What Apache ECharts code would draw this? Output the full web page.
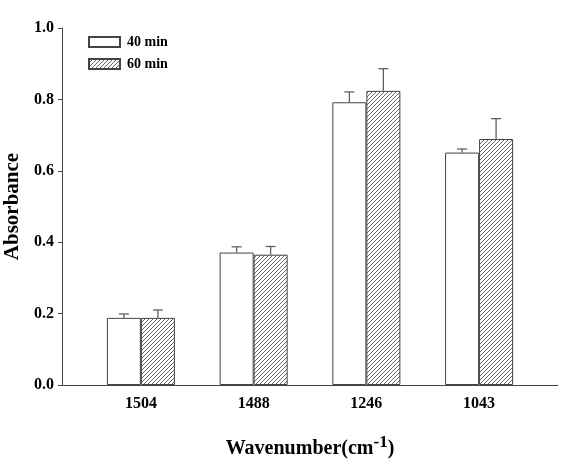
<!DOCTYPE html>
<html>
<head>
<meta charset="utf-8">
<script src="https://cdn.jsdelivr.net/npm/echarts@6/dist/echarts.min.js"></script>
<style>
  html, body { margin: 0; padding: 0; background: #fff; }
  #chart { width: 566px; height: 474px; }
</style>
</head>
<body>
<div id="chart"></div>
<script>
const wavenumbers = ["1504", "1488", "1246", "1043"];
const positions = [1, 2, 3, 4];
const abs40 = [0.188, 0.371, 0.792, 0.651];
const err40 = [0.011, 0.016, 0.029, 0.010];
const abs60 = [0.188, 0.365, 0.824, 0.689];
const err60 = [0.022, 0.023, 0.062, 0.057];

const FONT = "Liberation Serif";
const BAR_W = 34;

// diagonal hatch tile for the 60 min bars
function hatchTile() {
  const c = document.createElement("canvas");
  c.width = 4;
  c.height = 4;
  const ctx = c.getContext("2d");
  ctx.fillStyle = "#fff";
  ctx.fillRect(0, 0, 4, 4);
  ctx.strokeStyle = "#555";
  ctx.lineWidth = 0.9;
  ctx.beginPath();
  ctx.moveTo(0, 4); ctx.lineTo(4, 0);
  ctx.moveTo(-1, 1); ctx.lineTo(1, -1);
  ctx.moveTo(3, 5); ctx.lineTo(5, 3);
  ctx.stroke();
  return c;
}
const hatch = { image: hatchTile(), repeat: "repeat" };

function errorSeries(vals, errs, offset) {
  return {
    type: "custom",
    silent: true,
    z: 5,
    data: positions.map((p, i) => [p, vals[i], vals[i] + errs[i]]),
    renderItem(params, api) {
      const base = api.coord([api.value(0), api.value(1)]);
      const top = api.coord([api.value(0), api.value(2)]);
      const x = base[0] + offset;
      const style = { stroke: "#555", lineWidth: 1.2 };
      return {
        type: "group",
        children: [
          { type: "line", shape: { x1: x, y1: base[1], x2: x, y2: top[1] }, style },
          { type: "line", shape: { x1: x - 5, y1: top[1], x2: x + 5, y2: top[1] }, style },
        ],
      };
    },
  };
}

const chart = echarts.init(document.getElementById("chart"));
chart.setOption({
  animation: false,
  backgroundColor: "#fff",
  grid: { left: 62, right: 8, top: 28, bottom: 89, containLabel: false, outerBoundsMode: "none" },
  legend: {
    orient: "vertical",
    left: 88,
    top: 35,
    padding: 0,
    icon: "rect",
    itemWidth: 31,
    itemHeight: 10,
    itemGap: 8,
    data: ["40 min", "60 min"],
    textStyle: { fontFamily: FONT, fontWeight: "bold", fontSize: 14, color: "#000", padding: [0, 0, 0, 2] },
  },
  xAxis: {
    type: "value",
    min: 0.3,
    max: 4.7,
    splitLine: { show: false },
    axisLine: { lineStyle: { color: "#444", width: 1 } },
    axisTick: { show: false },
    axisLabel: {
      customValues: positions,
      formatter: (v) => wavenumbers[Math.round(v) - 1] || "",
      margin: 11,
      fontFamily: FONT,
      fontWeight: "bold",
      fontSize: 16,
      color: "#000",
    },
    name: "Wavenumber(cm{sup|-1})",
    nameLocation: "middle",
    nameGap: 49,
    nameTextStyle: {
      fontFamily: FONT,
      fontWeight: "bold",
      fontSize: 20,
      color: "#000",
      rich: {
        sup: { fontFamily: FONT, fontWeight: "bold", fontSize: 17, color: "#000", verticalAlign: "top", padding: [0, 0, 12, 0] },
      },
    },
  },
  yAxis: {
    type: "value",
    min: 0,
    max: 1,
    interval: 0.2,
    splitLine: { show: false },
    axisLine: { show: true, lineStyle: { color: "#444", width: 1 } },
    axisTick: { show: true, inside: false, length: 4, lineStyle: { color: "#444" } },
    axisLabel: {
      formatter: (v) => v.toFixed(1),
      margin: 8,
      fontFamily: FONT,
      fontWeight: "bold",
      fontSize: 16,
      color: "#000",
    },
    name: "Absorbance",
    nameLocation: "middle",
    nameGap: 38,
    nameTextStyle: { fontFamily: FONT, fontWeight: "bold", fontSize: 21, color: "#000" },
  },
  series: [
    {
      name: "40 min",
      type: "bar",
      barWidth: BAR_W,
      barGap: "0%",
      itemStyle: { color: "#fff", borderColor: "#444", borderWidth: 1 },
      data: positions.map((p, i) => [p, abs40[i]]),
    },
    {
      name: "60 min",
      type: "bar",
      barWidth: BAR_W,
      barGap: "0%",
      itemStyle: { color: hatch, borderColor: "#444", borderWidth: 1 },
      data: positions.map((p, i) => [p, abs60[i]]),
    },
    errorSeries(abs40, err40, -BAR_W / 2),
    errorSeries(abs60, err60, BAR_W / 2),
  ],
});
</script>
</body>
</html>
